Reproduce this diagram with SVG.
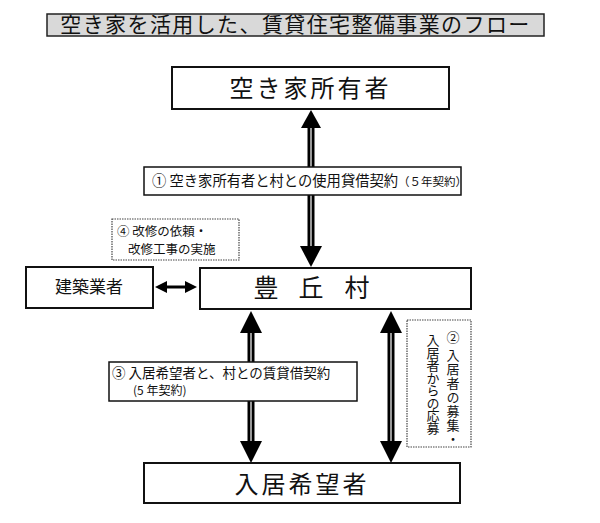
<svg xmlns="http://www.w3.org/2000/svg" width="600" height="523" viewBox="0 0 600 523">
<style>
text{font-family:"Noto Sans CJK JP","Noto Sans",sans-serif;fill:#111}
.box{fill:#fff;stroke:#111;stroke-width:2}
.lbl{fill:#fff;stroke:#111;stroke-width:1.5}
.dot{fill:#fff;stroke:#444;stroke-width:1.2;stroke-dasharray:1.5 1}
.shaft{stroke:#000;stroke-width:7}
.inner{stroke:#fff;stroke-width:1.2}
.head{fill:#000}
</style>
<rect x="0" y="0" width="600" height="523" fill="#fff"/>
<g id="title">
<rect x="47" y="14" width="497" height="22" fill="#d9d9d9" stroke="#222" stroke-width="1.5"/>
<text x="295.5" y="32" font-size="21" text-anchor="middle" letter-spacing="1.4">空き家を活用した、賃貸住宅整備事業のフロー</text>
</g>
<g id="connectors">
<line class="shaft" x1="311" y1="126" x2="311" y2="250"/>
<line class="inner" x1="311" y1="126" x2="311" y2="250"/>
<polygon class="head" points="311,110 301,128 321,128"/>
<polygon class="head" points="311,267 300,246 322,246"/>
<line class="shaft" x1="251" y1="330" x2="251" y2="445"/>
<line class="inner" x1="251" y1="330" x2="251" y2="445"/>
<polygon class="head" points="251,311 240,333 262,333"/>
<polygon class="head" points="251,463 240,441 262,441"/>
<line class="shaft" x1="391" y1="330" x2="391" y2="445"/>
<line class="inner" x1="391" y1="330" x2="391" y2="445"/>
<polygon class="head" points="391,311 380,333 402,333"/>
<polygon class="head" points="391,463 380,441 402,441"/>
<line x1="164" y1="287" x2="188" y2="287" stroke="#000" stroke-width="3"/>
<polygon class="head" points="155,287 167,281 167,293"/>
<polygon class="head" points="197,287 185,281 185,293"/>
</g>
<g id="owner">
<rect class="box" x="172" y="67" width="277" height="42"/>
<text x="310.5" y="97" font-size="24" text-anchor="middle" letter-spacing="3">空き家所有者</text>
</g>
<g id="label1">
<rect class="lbl" x="144" y="167" width="317" height="28"/>
<text x="152" y="186" font-size="14.3">① 空き家所有者と村との使用貸借契約<tspan font-size="11.5">（５年契約）</tspan></text>
</g>
<g id="label4">
<rect class="dot" x="112" y="219" width="127" height="41"/>
<text x="117" y="236" font-size="12.5">④ 改修の依頼・</text>
<text x="128" y="254" font-size="12.5">改修工事の実施</text>
</g>
<g id="builder">
<rect class="box" x="26" y="267" width="127" height="41"/>
<text x="89" y="293" font-size="17" text-anchor="middle">建築業者</text>
</g>
<g id="village">
<rect class="box" x="200" y="268" width="271" height="41"/>
<text x="266 311 357" y="297" font-size="25" text-anchor="middle">豊丘村</text>
</g>
<g id="label3">
<rect class="lbl" x="109" y="362" width="248" height="39"/>
<text x="112" y="378" font-size="13.5">③ 入居希望者と、村との賃貸借契約</text>
<text x="133" y="395" font-size="12">(5 年契約)</text>
</g>
<g id="label2">
<rect class="dot" x="407" y="320" width="64" height="127"/>
<text x="453" y="331" font-size="13" writing-mode="vertical-rl" letter-spacing="1">② 入居者の募集・</text>
<text x="433" y="334" font-size="13" writing-mode="vertical-rl" letter-spacing="-0.5">入居者からの応募</text>
</g>
<g id="applicant">
<rect class="box" x="144" y="463" width="316" height="40"/>
<text x="302" y="493" font-size="24" text-anchor="middle" letter-spacing="3">入居希望者</text>
</g>
</svg>
